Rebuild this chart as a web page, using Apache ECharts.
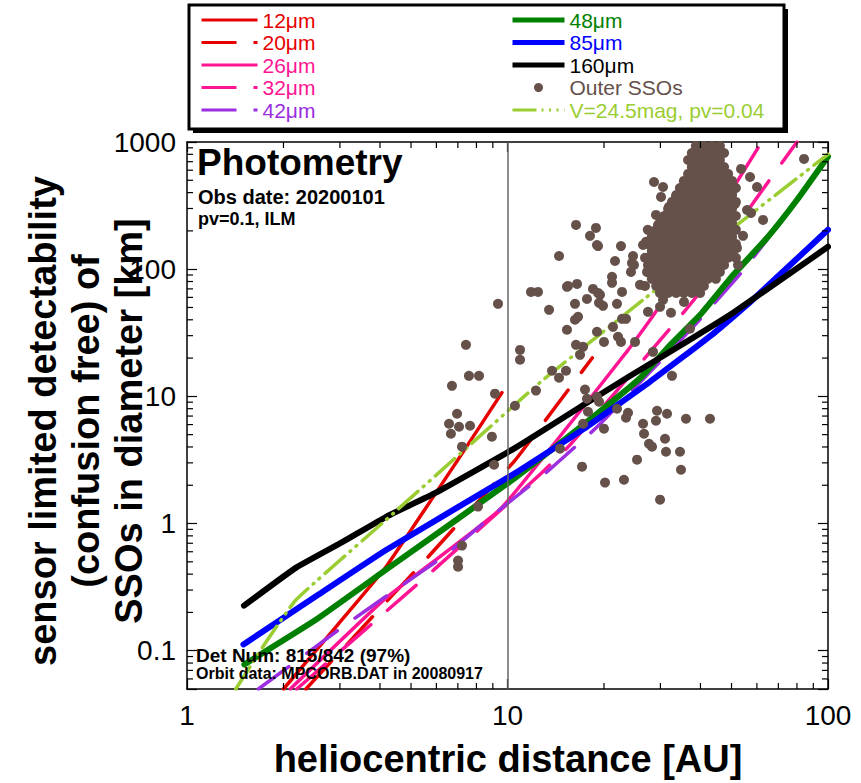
<!DOCTYPE html>
<html>
<head>
<meta charset="utf-8">
<script src="https://cdn.jsdelivr.net/npm/echarts@6/dist/echarts.min.js"></script>
<style>
  html, body { margin: 0; padding: 0; background: #ffffff; }
  #chart { width: 861px; height: 783px; }
</style>
</head>
<body>
<div id="chart"></div>
<script>
const FONT = '"Liberation Sans", Arial, Helvetica, sans-serif';

// ---- axes ----
const xRange = [1, 100];
const yRange = [0.05, 1000];
const xTickValues = [1, 10, 100];
const xTickLabels = ['1', '10', '100'];
const yTickValues = [0.1, 1, 10, 100, 1000];
const yTickLabels = ['0.1', '1', '10', '100', '1000'];

// ---- detection limit curves: [heliocentric distance (AU), diameter (km)] ----
const limit12um = [[2.0, 0.05], [2.92, 0.155], [4.18, 0.458], [7.01, 3.18], [9.61, 10.7]];
const limit20um = [[2.35, 0.05], [4.39, 0.276], [5.45, 0.493], [10.6, 3.18], [13.9, 7.85], [18.4, 20.1]];
const limit26um = [[2.10, 0.05], [4.18, 0.26], [9.5, 1.3], [23.8, 23.2], [29.3, 47.9], [60.5, 898]];
const limit32um = [[2.2, 0.05], [5.9, 0.434], [12.4, 2.33], [15.7, 4.17], [33.3, 37.9], [39.9, 66.3], [55.9, 282], [80, 1000]];
const limit42um = [[1.67, 0.05], [3.07, 0.155], [4.39, 0.292], [6.43, 0.57], [9.21, 1.22], [13.3, 2.56], [19.2, 5.88], [39.0, 37.9], [53.9, 95.3], [64.5, 170]];
const limit48um = [[1.51, 0.078], [2.53, 0.176], [4.18, 0.434], [10.6, 2.3], [19.4, 7.6], [26, 14], [32, 25], [40, 44], [50.6, 90], [64.4, 175], [80, 350], [100, 770]];
const limit85um = [[1.5, 0.112], [2.58, 0.278], [4.18, 0.62], [10.6, 2.5], [17.2, 5.5], [27.8, 13], [43.8, 31], [57.1, 55], [100, 204]];
const limit160um = [[1.506, 0.226], [2.19, 0.45], [3.07, 0.72], [4.18, 1.13], [5.98, 1.75], [10.6, 3.95], [17.7, 8.9], [23.6, 14], [37.1, 27.9], [50.6, 45.4], [100, 150]];
const limitV245 = [[1.42, 0.05], [1.76, 0.116], [2.19, 0.252], [4.18, 1.07], [7.53, 4.02], [12.6, 12.8], [26.5, 57.4], [50.6, 211], [100, 800]];

// ---- outer solar system objects: [AU, km] ----
const ssoScatter = [
  [9.34, 53.4], [7.42, 25.4], [7.58, 14.5], [8.15, 14.5], [6.71, 12.1], [9.14, 10.5], [6.96, 7.30],
  [6.57, 6.09], [7.06, 5.77], [7.64, 5.87], [6.66, 5.08], [8.94, 4.82], [7.21, 4.02], [10.55, 8.44],
  [10.94, 23.2], [10.94, 19.4], [9.08, 2.90], [8.09, 1.36], [7.21, 0.671], [7.01, 0.511], [7.01, 0.458],
  [11.84, 66.3], [12.45, 66.3], [13.48, 47.9], [13.77, 15.9], [14.48, 14.0], [15.22, 15.9], [15.33, 33.4],
  [15.44, 73.9], [16.48, 76.6], [16.24, 53.4], [16.24, 40.0], [16.60, 42.2], [16.36, 25.4], [17.21, 24.5],
  [16.84, 21.2], [17.70, 58.4], [18.48, 70.0], [19.02, 32.2], [17.45, 11.3], [17.83, 7.57], [17.21, 6.09],
  [14.58, 3.88], [19.02, 9.93], [12.27, 11.1], [17.70, 9.57], [19.30, 9.07], [20.00, 5.57], [17.08, 2.80],
  [20.15, 2.10], [23.09, 2.21], [21.96, 7.99], [23.43, 6.79], [23.77, 7.43], [25.36, 3.18], [26.48, 6.09],
  [26.67, 5.08], [27.64, 4.24], [28.24, 4.02], [29.06, 6.43], [29.28, 7.71], [31.46, 7.30], [31.01, 4.64],
  [31.23, 3.67], [29.92, 1.54], [34.53, 3.67], [34.78, 2.65], [36.05, 6.67], [42.83, 6.67], [32.60, 14.5],
  [28.44, 22.4], [16.36, 223], [18.88, 211], [18.09, 183], [19.16, 152], [22.60, 152], [14.48, 127],
  [21.65, 116], [24.64, 127], [24.46, 112], [19.44, 62.8], [19.30, 54.4], [19.86, 51.5], [20.00, 26.8],
  [21.34, 35.2], [21.96, 53.4], [22.77, 40.7], [23.43, 40.7], [22.77, 66.3], [21.19, 87.0], [21.19, 78.1],
  [25.00, 26.8], [22.60, 26.8], [24.81, 108], [32.37, 45.4], [35.54, 55.3], [37.10, 34.0], [27.44, 46.2],
  [28.65, 485], [30.57, 443], [30.13, 370], [33.55, 370], [31.91, 309], [29.06, 267], [29.49, 223],
  [27.05, 164], [26.86, 123], [27.44, 108], [27.25, 95.2], [84.18, 736], [53.54, 614], [57.11, 531],
  [60.06, 443], [50.53, 420], [51.26, 326], [55.90, 292], [57.52, 277], [62.70, 244], [54.31, 183],
  [52.00, 147], [52.38, 108], [19.02, 155], [24.28, 95.2], [25.91, 75.3], [26.86, 73.9], [15.33, 72.6],
  [19.16, 65.1], [30.57, 57.4], [29.92, 50.6], [22.12, 29.4], [26.48, 155]
];
// dense Kuiper-belt core, listed row by row: [km, [AU, AU, ...]]
const ssoCoreRows = [
  [930, [38.7, 41.0, 43.5, 46.0]],
  [820, [37.6, 39.9, 42.2, 44.7, 47.4]],
  [722, [36.6, 38.7, 41.0, 43.5, 46.0]],
  [636, [37.6, 39.9, 42.2, 44.7, 47.4]],
  [561, [36.6, 38.7, 41.0, 43.5, 46.0, 48.8]],
  [494, [35.5, 37.6, 39.9, 42.2, 44.7, 47.4, 50.2]],
  [435, [34.5, 36.6, 38.7, 41.0, 43.5, 46.0, 48.8, 51.6]],
  [383, [33.6, 35.5, 37.6, 39.9, 42.2, 44.7, 47.4, 50.2]],
  [338, [32.6, 34.5, 36.6, 38.7, 41.0, 43.5, 46.0, 48.8, 51.6]],
  [298, [31.7, 33.6, 35.5, 37.6, 39.9, 42.2, 44.7, 47.4, 50.2]],
  [262, [30.8, 32.6, 34.5, 36.6, 38.7, 41.0, 43.5, 46.0, 48.8, 51.6]],
  [231, [29.9, 31.7, 33.6, 35.5, 37.6, 39.9, 42.2, 44.7, 47.4, 50.2]],
  [204, [27.4, 29.1, 30.8, 32.6, 34.5, 36.6, 38.7, 41.0, 43.5, 46.0, 48.8, 51.6]],
  [179, [28.2, 29.9, 31.7, 33.6, 35.5, 37.6, 39.9, 42.2, 44.7, 47.4, 50.2]],
  [158, [27.4, 29.1, 30.8, 32.6, 34.5, 36.6, 38.7, 41.0, 43.5, 46.0, 48.8, 51.6]],
  [139, [28.2, 29.9, 31.7, 33.6, 35.5, 37.6, 39.9, 42.2, 44.7, 47.4, 50.2]],
  [123, [27.4, 29.1, 30.8, 32.6, 34.5, 36.6, 38.7, 41.0, 43.5, 46.0, 48.8, 51.6]],
  [108, [28.2, 29.9, 31.7, 33.6, 35.5, 37.6, 39.9, 42.2, 44.7, 47.4]],
  [95.2, [27.4, 29.1, 30.8, 32.6, 34.5, 36.6, 38.7, 41.0, 43.5, 46.0]],
  [83.9, [28.2, 29.9, 31.7, 33.6, 35.5, 37.6, 39.9, 42.2, 44.7]],
  [73.9, [29.1, 30.8, 32.6, 34.5, 36.6, 38.7, 41.0]],
  [65.1, [29.9, 31.7, 33.6, 35.5, 37.6, 39.9]]
];

const ssoPoints = ssoScatter.concat(
  ssoCoreRows.flatMap(([km, aus]) => aus.map(au => [au, km]))
);

// ---- colours ----
const C = {
  red: '#e60000', pink: '#ff1493', purple: '#9a2ee0', green: '#008000',
  blue: '#0000ff', black: '#000000', brown: '#65504a', vline: '#9acd32'
};

// log minor tick positions (2..9 in every decade)
function minorTicks(lo, hi) {
  const out = [];
  for (let d = Math.floor(Math.log10(lo)); d < Math.ceil(Math.log10(hi)); d++) {
    for (let k = 2; k <= 9; k++) {
      const v = k * Math.pow(10, d);
      if (v > lo && v < hi) out.push(v);
    }
  }
  return out;
}
const xMinor = minorTicks(xRange[0], xRange[1]);
const yMinor = minorTicks(yRange[0], yRange[1]);

function tickFormatter(values, labels) {
  return function (v) {
    const i = values.findIndex(t => Math.abs(Math.log10(v / t)) < 1e-6);
    return i < 0 ? '' : labels[i];
  };
}

const DASH = [38, 22];
function lineSeries(name, data, color, width, type, z) {
  return {
    name, type: 'line', data, symbol: 'none', showSymbol: false, clip: true,
    smooth: 0.12, color, z: z || 3, animation: false, silent: true,
    lineStyle: { color, width, type, cap: 'round', join: 'round' }
  };
}

const series = [
  lineSeries('12μm', limit12um, C.red, 3.5, 'solid'),
  lineSeries('20μm', limit20um, C.red, 3.5, DASH),
  lineSeries('26μm', limit26um, C.pink, 3.5, 'solid'),
  lineSeries('32μm', limit32um, C.pink, 3.5, DASH),
  lineSeries('42μm', limit42um, C.purple, 3.5, DASH),
  lineSeries('48μm', limit48um, C.green, 6, 'solid'),
  lineSeries('85μm', limit85um, C.blue, 6, 'solid'),
  lineSeries('160μm', limit160um, C.black, 6, 'solid'),
  lineSeries('V=24.5mag, pv=0.04', limitV245, C.vline, 3.5, [26, 7, 1, 7, 1, 7], 4),
  {
    name: 'Outer SSOs', type: 'scatter', data: ssoPoints, symbol: 'circle', symbolSize: 10,
    itemStyle: { color: C.brown, opacity: 1 }, color: C.brown, z: 5, animation: false, silent: true
  },
  // reference line at 10 AU
  {
    name: 'ref10', type: 'line', data: [], z: 2, silent: true, animation: false,
    markLine: {
      silent: true, symbol: 'none', animation: false, label: { show: false },
      lineStyle: { color: '#666666', width: 1.5, type: 'solid' },
      data: [{ xAxis: 10 }]
    }
  },
  // minor ticks on bottom and top edges
  {
    type: 'custom', silent: true, clip: false, z: 6, animation: false,
    data: xMinor.map(v => [v, 1]),
    renderItem(params, api) {
      const v = api.value(0);
      const b = api.coord([v, yRange[0]]);
      const t = api.coord([v, yRange[1]]);
      const st = { stroke: '#000', lineWidth: 1.2 };
      return { type: 'group', children: [
        { type: 'line', shape: { x1: b[0], y1: b[1], x2: b[0], y2: b[1] - 6 }, style: st },
        { type: 'line', shape: { x1: t[0], y1: t[1], x2: t[0], y2: t[1] + 6 }, style: st }
      ] };
    }
  },
  // minor ticks on left and right edges
  {
    type: 'custom', silent: true, clip: false, z: 6, animation: false,
    data: yMinor.map(v => [1, v]),
    renderItem(params, api) {
      const v = api.value(1);
      const l = api.coord([xRange[0], v]);
      const r = api.coord([xRange[1], v]);
      const st = { stroke: '#000', lineWidth: 1.2 };
      return { type: 'group', children: [
        { type: 'line', shape: { x1: l[0], y1: l[1], x2: l[0] + 6, y2: l[1] }, style: st },
        { type: 'line', shape: { x1: r[0], y1: r[1], x2: r[0] - 6, y2: r[1] }, style: st }
      ] };
    }
  }
];

const axisCommon = {
  type: 'log', logBase: 10,
  axisLine: { show: true, onZero: false, lineStyle: { color: '#000', width: 1.5 } },
  axisTick: { show: true, inside: true, length: 10, lineStyle: { color: '#000', width: 1.2 } },
  splitLine: { show: false },
  minorTick: { show: false },
  minorSplitLine: { show: false }
};

// legend entries: line sample only (the point marker is hidden)
function legendItem(name, color, width, type) {
  return {
    name, textStyle: { color },
    lineStyle: { width, type, color, cap: 'butt' },
    itemStyle: { opacity: 0, color: 'rgba(0,0,0,0)', borderWidth: 0 }
  };
}
const LEG_DASH = [35, 17];
const legendText = { fontSize: 21, lineHeight: 22, fontFamily: FONT };

const option = {
  animation: false,
  backgroundColor: '#ffffff',
  grid: { left: 187, top: 142, width: 641, height: 547, containLabel: false, outerBoundsMode: 'none' },
  xAxis: [
    Object.assign({}, axisCommon, {
      position: 'bottom', min: xRange[0], max: xRange[1],
      axisLabel: {
        show: true, margin: 12, color: '#000', fontSize: 28, fontFamily: FONT,
        formatter: tickFormatter(xTickValues, xTickLabels), showMinLabel: true, showMaxLabel: true
      }
    }),
    Object.assign({}, axisCommon, {
      position: 'top', min: xRange[0], max: xRange[1], axisLabel: { show: false }
    })
  ],
  yAxis: [
    Object.assign({}, axisCommon, {
      position: 'left', min: yRange[0], max: yRange[1],
      axisLabel: {
        show: true, margin: 11, color: '#000', fontSize: 28, fontFamily: FONT,
        formatter: tickFormatter(yTickValues, yTickLabels), showMinLabel: true, showMaxLabel: true
      }
    }),
    Object.assign({}, axisCommon, {
      position: 'right', min: yRange[0], max: yRange[1], axisLabel: { show: false }
    })
  ],
  legend: [
    {
      left: 200, top: 9, orient: 'vertical', padding: 0, itemGap: 0.5,
      itemWidth: 56, itemHeight: 14, selectedMode: false, z: 10,
      textStyle: legendText,
      data: [
        legendItem('12μm', C.red, 3, 'solid'),
        legendItem('20μm', C.red, 3, LEG_DASH),
        legendItem('26μm', C.pink, 3, 'solid'),
        legendItem('32μm', C.pink, 3, LEG_DASH),
        legendItem('42μm', C.purple, 3, LEG_DASH)
      ]
    },
    {
      left: 510, top: 9, orient: 'vertical', padding: 0, itemGap: 0.5,
      itemWidth: 52, itemHeight: 9, selectedMode: false, z: 10,
      textStyle: legendText,
      data: [
        legendItem('48μm', C.green, 5, 'solid'),
        legendItem('85μm', C.blue, 5, 'solid'),
        legendItem('160μm', C.black, 5, 'solid'),
        { name: 'Outer SSOs', icon: 'circle', textStyle: { color: C.brown }, itemStyle: { color: C.brown } },
        legendItem('V=24.5mag, pv=0.04', C.vline, 3, [24, 5, 2, 5.5, 2, 5.5, 2, 5.5, 2, 5])
      ]
    }
  ],
  graphic: [
    // legend frame with drop shadow
    { type: 'rect', z: 1, shape: { x: 193, y: 9, width: 595, height: 124 }, style: { fill: '#000' } },
    { type: 'rect', z: 2, shape: { x: 189, y: 5, width: 595, height: 124 }, style: { fill: '#fff', stroke: '#000', lineWidth: 3 } },
    // annotations inside the plot
    { type: 'text', z: 100, x: 197, y: 162, style: { text: 'Photometry', font: `bold 37px ${FONT}`, fill: '#000', align: 'left', verticalAlign: 'middle' } },
    { type: 'text', z: 100, x: 198, y: 197, style: { text: 'Obs date: 20200101', font: `bold 20px ${FONT}`, fill: '#000', align: 'left', verticalAlign: 'middle' } },
    { type: 'text', z: 100, x: 198, y: 219, style: { text: 'pv=0.1, ILM', font: `bold 18px ${FONT}`, fill: '#000', align: 'left', verticalAlign: 'middle' } },
    { type: 'text', z: 100, x: 196, y: 655, style: { text: 'Det Num: 815/842 (97%)', font: `bold 19px ${FONT}`, fill: '#000', align: 'left', verticalAlign: 'middle' } },
    { type: 'text', z: 100, x: 196, y: 673, style: { text: 'Orbit data: MPCORB.DAT in 20080917', font: `bold 16px ${FONT}`, fill: '#000', align: 'left', verticalAlign: 'middle' } },
    // axis titles
    { type: 'text', z: 100, x: 508, y: 759, style: { text: 'heliocentric distance [AU]', font: `bold 38px ${FONT}`, fill: '#000', align: 'center', verticalAlign: 'middle' } },
    {
      type: 'text', z: 100, x: 86, y: 421, rotation: Math.PI / 2,
      style: {
        text: 'sensor limited detectability\n(confusion free) of\nSSOs in diameter [km]',
        font: `bold 38px ${FONT}`, fill: '#000', align: 'center', verticalAlign: 'middle', lineHeight: 43
      }
    }
  ],
  series
};

const chart = echarts.init(document.getElementById('chart'), null, { renderer: 'svg', width: 861, height: 783 });
chart.setOption(option);
</script>
</body>
</html>
